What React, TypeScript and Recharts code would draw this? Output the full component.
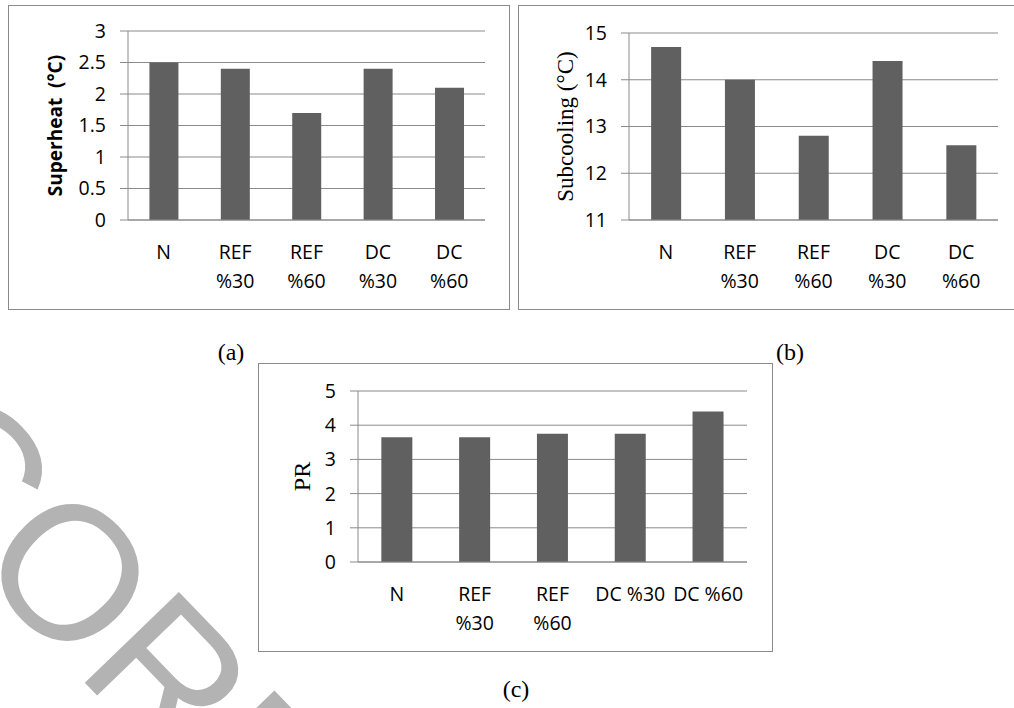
import { BarChart, Bar, XAxis, YAxis, CartesianGrid } from 'recharts'

const categories = ['N', 'REF %30', 'REF %60', 'DC %30', 'DC %60']
const superheat = [2.5, 2.4, 1.7, 2.4, 2.1]
const subcooling = [14.7, 14.0, 12.8, 14.4, 12.6]
const pressureRatio = [3.65, 3.65, 3.75, 3.75, 4.4]

const superheatTicks = [0, 0.5, 1, 1.5, 2, 2.5, 3]
const subcoolingTicks = [11, 12, 13, 14, 15]
const prTicks = [0, 1, 2, 3, 4, 5]

const GRID = '#8a8a8a'
const BAR = '#606060'
const SANS = '"Open Sans", sans-serif'
const SERIF = '"Liberation Serif", "Times New Roman", serif'

const toRows = (values: number[]) => categories.map((name, i) => ({ name, value: values[i] }))

// category label, wrapped onto two lines when it is longer than maxChars
function CatTick({ x, y, payload, maxChars }: any) {
    const text: string = payload.value
    const lines = text.length > maxChars ? text.split(' ') : [text]
    return (
        <text x={x} y={y} textAnchor="middle" fontSize={19.5} fontFamily={SANS} fill="#000">
            {lines.map((l, i) => (
                <tspan key={i} x={x} dy={i === 0 ? 39 : 29}>{l}</tspan>
            ))}
        </text>
    )
}

function yTitle(text: string, dx: number, font: string, size: number, weight: number) {
    return (props: any) => {
        const vb = props.viewBox
        const cx = vb.x + dx
        const cy = vb.y + vb.height / 2
        return (
            <text
                x={cx}
                y={cy}
                transform={`rotate(-90 ${cx} ${cy})`}
                textAnchor="middle"
                dominantBaseline="central"
                fontFamily={font}
                fontSize={size}
                fontWeight={weight}
                fill="#000"
                style={{ whiteSpace: 'pre' }}
            >
                {text}
            </text>
        )
    }
}

type PanelProps = {
    left: number
    top: number
    width: number
    height: number
    values: number[]
    domain: [number, number]
    ticks: number[]
    axisWidth: number
    margin: { top: number, right: number }
    maxChars: number
    title: (props: any) => any
}

function Panel({ left, top, width, height, values, domain, ticks, axisWidth, margin, maxChars, title }: PanelProps) {
    return (
        <div style={{
            position: 'absolute', left, top, width, height,
            border: `1px solid ${GRID}`, boxSizing: 'border-box', background: '#fff'
        }}>
            <BarChart
                width={width}
                height={height}
                data={toRows(values)}
                margin={{ top: margin.top, right: margin.right, left: 0, bottom: 0 }}
                barCategoryGap="30%"
                style={{ position: 'absolute', left: -1, top: -1 }}
            >
                <CartesianGrid vertical={false} stroke={GRID} strokeWidth={1} />
                <XAxis
                    dataKey="name"
                    height={90}
                    axisLine={{ stroke: GRID }}
                    tickLine={false}
                    tickSize={0}
                    tickMargin={0}
                    interval={0}
                    tick={<CatTick maxChars={maxChars} />}
                />
                <YAxis
                    width={axisWidth}
                    domain={domain}
                    ticks={ticks}
                    interval={0}
                    axisLine={{ stroke: GRID }}
                    tickLine={{ stroke: GRID }}
                    tickSize={8}
                    tickMargin={14}
                    tick={{ fontSize: 19.5, fontFamily: SANS, fill: '#000' }}
                    label={title}
                />
                <Bar dataKey="value" fill={BAR} isAnimationActive={false} />
            </BarChart>
        </div>
    )
}

export default function App() {
    return (
        <div style={{ position: 'absolute', left: 0, top: 0, width: 1014, height: 708, overflow: 'hidden', background: '#fff' }}>
            {/* faint watermark behind the panels */}
            <svg width={1014} height={708} style={{ position: 'absolute', left: 0, top: 0 }}>
                <text
                    x={-205}
                    y={66}
                    transform="translate(66,568) rotate(46)"
                    fontFamily='"Liberation Sans", Arial, sans-serif'
                    fontSize={190}
                    fill="#b3b3b3"
                >
                    CORRECTED
                </text>
            </svg>

            <Panel
                left={8} top={5} width={502} height={305}
                values={superheat} domain={[0, 3]} ticks={superheatTicks}
                axisWidth={120} margin={{ top: 26, right: 25 }} maxChars={5}
                title={yTitle('Superheat  (°C)', 47, SANS, 19, 700)}
            />
            <Panel
                left={518} top={5} width={500} height={305}
                values={subcooling} domain={[11, 15]} ticks={subcoolingTicks}
                axisWidth={111} margin={{ top: 28, right: 20 }} maxChars={5}
                title={yTitle('Subcooling (°C)', 47, SERIF, 23, 400)}
            />
            <Panel
                left={258} top={363} width={515} height={289}
                values={pressureRatio} domain={[0, 5]} ticks={prTicks}
                axisWidth={100} margin={{ top: 28, right: 26 }} maxChars={6}
                title={yTitle('PR', 44, SERIF, 24, 400)}
            />

            <svg width={1014} height={708} style={{ position: 'absolute', left: 0, top: 0, pointerEvents: 'none' }}>
                <g fontFamily={SERIF} fontSize={24} fill="#000" textAnchor="middle" dominantBaseline="central">
                    <text x={231} y={352}>(a)</text>
                    <text x={790} y={352}>(b)</text>
                    <text x={516} y={689}>(c)</text>
                </g>
            </svg>
        </div>
    )
}
